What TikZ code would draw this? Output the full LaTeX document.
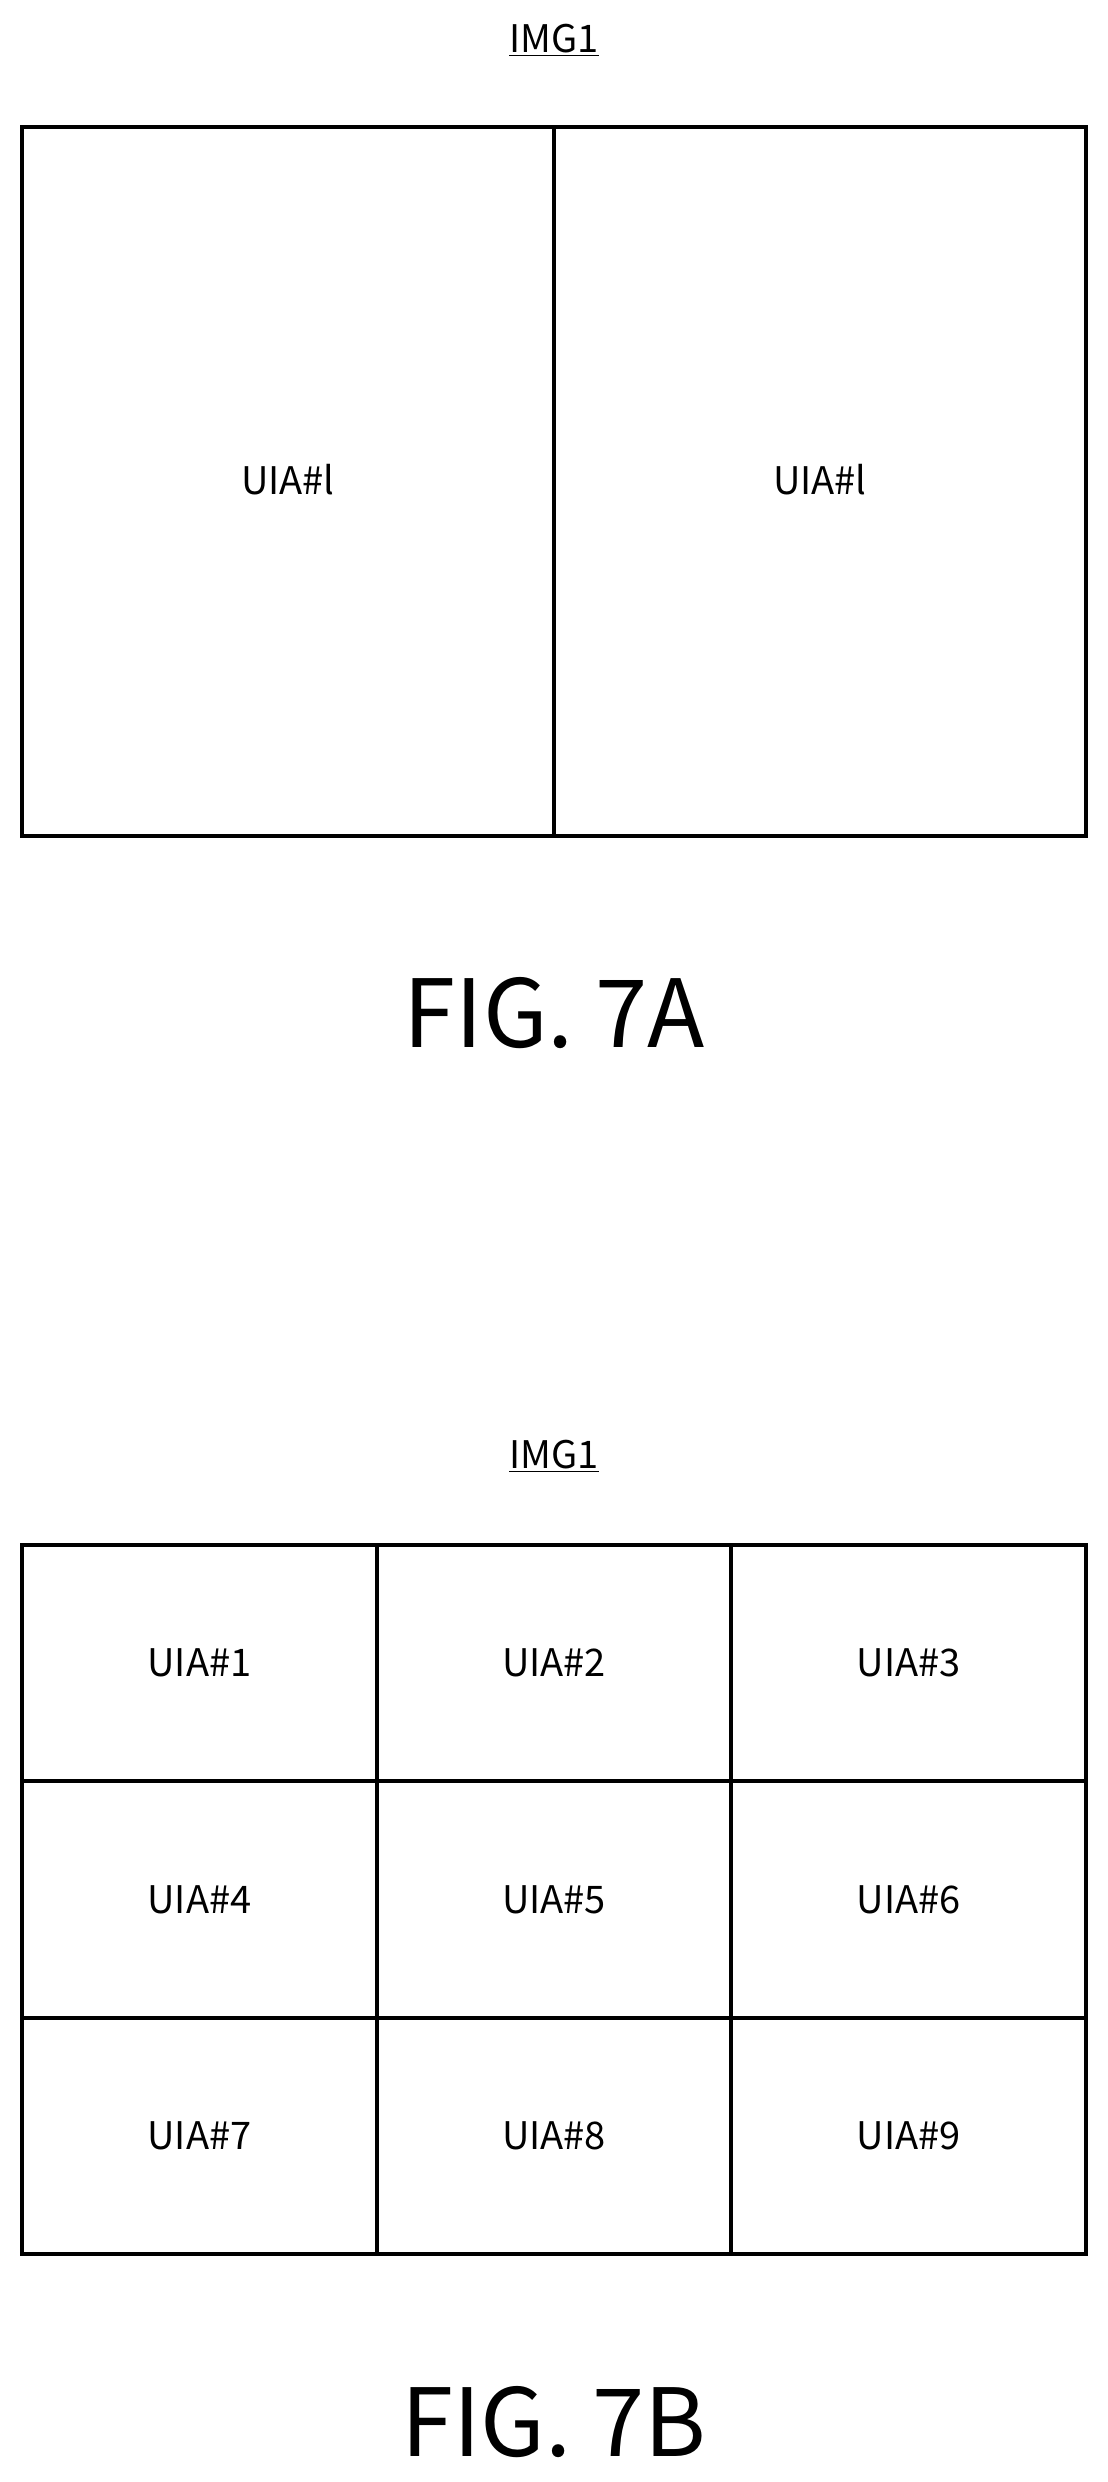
\documentclass[tikz,border=0pt]{standalone}
\usepackage{fontspec}
\setmainfont{Noto Sans CJK JP}
\tikzset{
  cellbox/.style={draw, line width=4.5pt},
  celltext/.style={font=\fontsize{38}{42}\selectfont},
  figtext/.style={font=\fontsize{94}{98}\selectfont}
}
\begin{document}
\begin{tikzpicture}[x=1pt,y=-1pt]
		\useasboundingbox (0,0) rectangle (1108,2482);
		% FIG. 7A
		\node[celltext] (imgA) at (554,40) {\underline{IMG1}};
		\draw[cellbox] (22,127) rectangle (1086,836);
		\draw[cellbox] (554,127) -- (554,836);
		\node[celltext] (uiaL) at (288,480) {UIA\#l};
		\node[celltext] (uiaR) at (820,480) {UIA\#l};
		\node[figtext] (figA) at (554,1013) {FIG. 7A};
		
		% FIG. 7B
		\node[celltext] (imgB) at (554,1456) {\underline{IMG1}};
		\draw[cellbox] (22,1545) rectangle (1086,2254);
		\foreach \x in {377,731}
		{
			\draw[cellbox] (\x,1545) -- (\x,2254);
		}
		\foreach \y in {1781,2018}
		{
			\draw[cellbox] (22,\y) -- (1086,\y);
		}
		\foreach \r in {0,1,2}
		{
			\foreach \c in {0,1,2}
			{
				\pgfmathtruncatemacro{\n}{3*\r+\c+1}
				\node[celltext] (uia\n) at ({199.5+354.5*\c},{1663+236.5*\r}) {UIA\#\n};
			}
		}
		\node[figtext] (figB) at (554,2422) {FIG. 7B};
	\end{tikzpicture}
\end{document}
